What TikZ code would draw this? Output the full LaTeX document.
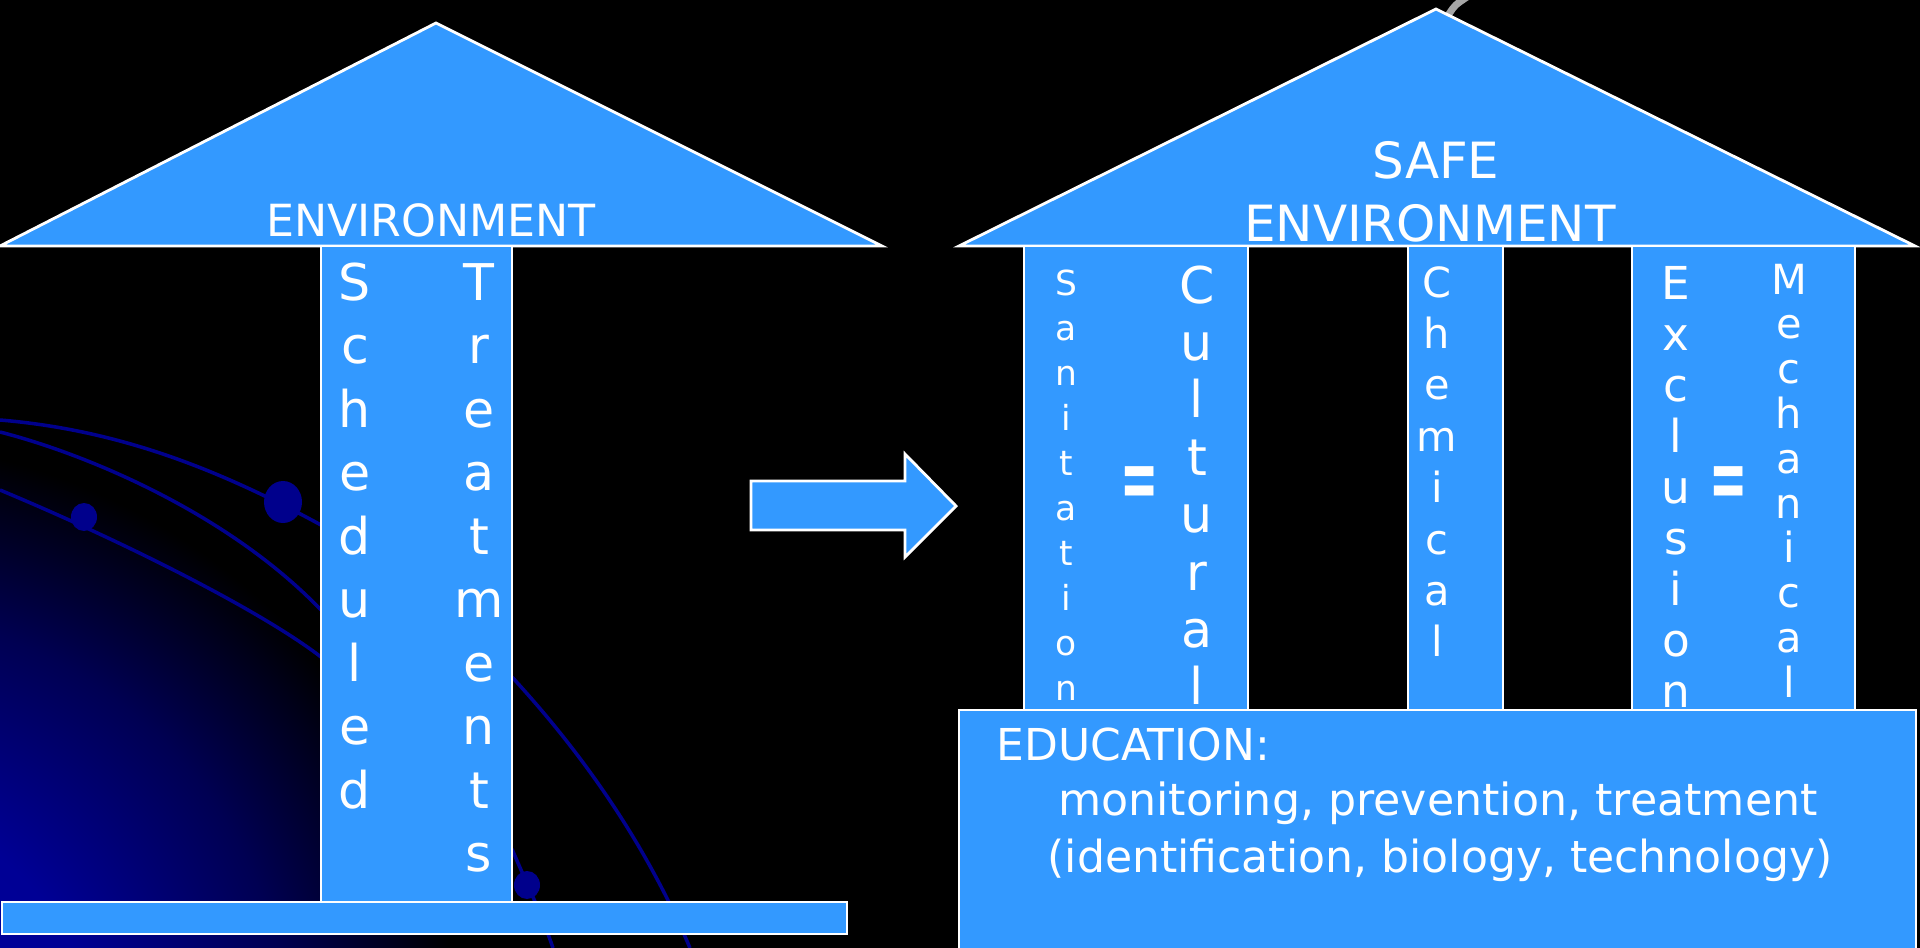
\documentclass[tikz,border=0pt]{standalone}
\usepackage{fontspec}
\setmainfont{DejaVu Sans}
\usepackage{graphicx}
\usetikzlibrary{calc}
\definecolor{skyblue}{RGB}{51,153,255}
\definecolor{nightblue}{RGB}{0,0,165}
\definecolor{swirlblue}{RGB}{0,0,140}
\pgfdeclareradialshading{cornerglow}{\pgfpoint{0bp}{0bp}}{color(0bp)=(nightblue); color(10bp)=(nightblue!90!black); color(18bp)=(nightblue!50!black); color(23bp)=(nightblue!15!black); color(25bp)=(black); color(50bp)=(black)}
\tikzset{block/.style = {fill=skyblue, draw=white, line width=0.8pt}}
\tikzset{letter/.style = {text=white, anchor=base, inner sep=0pt, font=\fontsize{#1}{#1}\selectfont}}
\tikzset{swirl/.style = {draw=swirlblue, line width=1pt}}

\begin{document}
\begin{tikzpicture}[x=0.01cm, y=-0.01cm]
	\def\eave{246}
	\def\floor{710}
	\def\eq{\scalebox{1}[1.9]{\bfseries =}}
	
	\useasboundingbox (0,0) rectangle (1920,948);
	\fill[black] (0,0) rectangle (1920,948);
	
	% background
	\begin{scope}
		\clip (0,0) rectangle (1920,948);
		\shade[shading=cornerglow] (-150,1050) circle (610);
	\end{scope}
	\draw[swirl]	(0,420) .. controls (120,430) and (220,470) .. (321,525);
	\draw[swirl]	(0,432) .. controls (90,455) and (230,515) .. (321,610);
	\draw[swirl]	(0,490) .. controls (120,540) and (260,610) .. (321,657);
	\draw[swirl]	(512,677) .. controls (570,740) and (640,830) .. (690,948);
	\draw[swirl]	(512,849) .. controls (525,880) and (540,910) .. (553,948);
	\fill[swirlblue]	(283,502) ellipse (19 and 21);
	\fill[swirlblue]	(84,517) ellipse (13 and 14);
	\fill[swirlblue]	(527,885) ellipse (13 and 14);
	\draw[gray!70, line width=2pt, line cap=round] (1449,14) .. controls (1455,5) .. (1467,-3);
	
	% old house
	\draw[block]	(0,\eave) -- (436,23) -- (882,\eave) -- cycle;
	\draw[block]	(321,\eave) rectangle (512,902);
	\draw[block]	(2,902) rectangle (847,934);
	\node[letter=12.6] (envleft) at (431,236) {ENVIRONMENT};
	\foreach \c [count=\i] in {S,c,h,e,d,u,l,e,d}
		\node[letter=14.4] (sched\i) at (355,{300+(\i-1)*63.5}) {\c};
	\foreach \c [count=\i] in {T,r,e,a,t,m,e,n,t,s}
		\node[letter=14.4] (treat\i) at (479,{300+(\i-1)*63.5}) {\c};
	
	% arrow
	\draw[block]	(751,481) -- (905,481) -- (905,454) -- (956,506) -- (905,557) -- (905,530) -- (751,530) -- cycle;
	
	% new house
	\draw[block]	(959,\eave) -- (1436,9) -- (1915,\eave) -- cycle;
	\draw[block]	(1024,\eave) rectangle (1248,\floor);
	\draw[block]	(1408,\eave) rectangle (1503,\floor);
	\draw[block]	(1632,\eave) rectangle (1855,\floor);
	\draw[block]	(959,\floor) rectangle (1916,960);
	\node[letter=14.2] (safe) at (1436,178) {SAFE};
	\node[letter=14.2] (envright) at (1430,241) {ENVIRONMENT};
	
	\foreach \c [count=\i] in {S,a,n,i,t,a,t,i,o,n}
		\node[letter=9.8] (sanit\i) at (1066,{295+(\i-1)*45}) {\c};
	\foreach \c [count=\i] in {C,u,l,t,u,r,a,l}
		\node[letter=14.4] (cult\i) at (1197,{303+(\i-1)*57.4}) {\c};
	\foreach \c [count=\i] in {C,h,e,m,i,c,a,l}
		\node[letter=11.8] (chem\i) at (1437,{297+(\i-1)*51.4}) {\c};
	\foreach \c [count=\i] in {E,x,c,l,u,s,i,o,n}
		\node[letter=12.9] (excl\i) at (1676,{299+(\i-1)*51}) {\c};
	\foreach \c [count=\i] in {M,e,c,h,a,n,i,c,a,l}
		\node[letter=11.8] (mech\i) at (1789,{294+(\i-1)*44.8}) {\c};
	\node[letter=13] (eqleft) at (1140,508) {\eq};
	\node[letter=13] (eqright) at (1729,508) {\eq};
	
	\node[letter=12.5, anchor=base west] (edu) at (996,760) {EDUCATION:};
	\node[letter=12.6] (monit) at (1438,815) {monitoring, prevention, treatment};
	\node[letter=12.55] (ident) at (1440,872) {(identification, biology, technology)};
\end{tikzpicture}
\end{document}
